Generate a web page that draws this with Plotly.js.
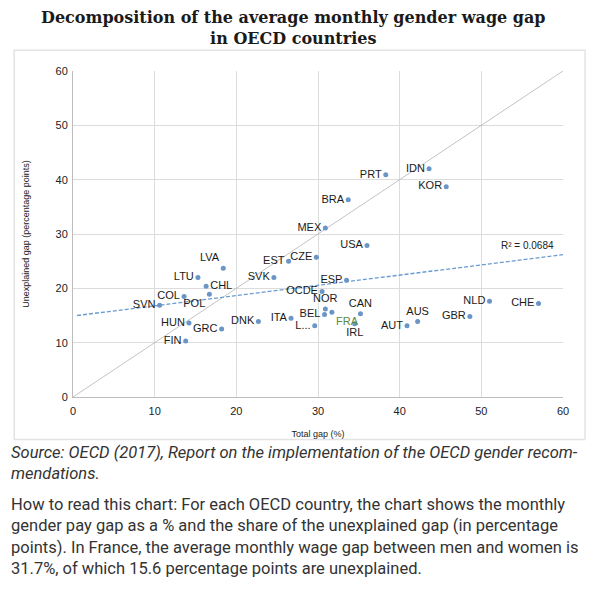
<!DOCTYPE html>
<html><head><meta charset="utf-8">
<script src="https://cdn.plot.ly/plotly-3.0.1.min.js"></script>
<style>html,body{margin:0;padding:0;background:#fff;}#chart{width:589px;height:599px;}</style>
</head><body><div id="chart"></div>
<script>
var countries = ["PRT","IDN","KOR","BRA","MEX","USA","CZE","EST","LVA","LTU","SVK","CHL","COL","POL","SVN","HUN","GRC","FIN","DNK","ITA","L...","OCDE","ESP","NOR","BEL","FRA","CAN","IRL","AUT","AUS","GBR","NLD","CHE"];
var totalGap = [38.3,43.6,45.7,33.7,30.9,36.0,29.8,26.4,18.4,15.3,24.6,16.3,13.6,16.7,10.6,14.2,18.2,13.8,22.7,26.7,29.6,30.5,33.5,30.9,30.8,31.7,35.2,34.5,40.9,42.2,48.6,51.0,57.0];
var unexplainedGap = [40.9,42.0,38.7,36.3,31.1,27.9,25.7,25.0,23.7,22.0,22.0,20.4,18.5,18.9,16.9,13.6,12.5,10.3,13.9,14.5,13.1,19.4,21.5,16.2,15.2,15.6,15.3,13.5,13.1,13.9,14.8,17.6,17.2];
var diagX = [0, 60];
var diagY = [0, 60];
var trendX = [0.5, 60];
var trendY = [15.0, 26.2];
var xTicks = [0,10,20,30,40,50,60];
var yTicks = [0,10,20,30,40,50,60];
var rSquared = "R² = 0.0684";

var special = {"LVA":"top left","CHL":"middle right","POL":"bottom left","NOR":"top center","FRA":"bottom right","CAN":"top center","IRL":"bottom center","AUS":"top center"};
var positions = countries.map(function(c){ return special[c] || "middle left"; });
var textColors = countries.map(function(c){ return c === "FRA" ? "#5b8a3c" : "#1a1a1a"; });

var traces = [
  {x: diagX, y: diagY, mode: "lines", line: {color: "#b4b4b4", width: 0.8}, hoverinfo: "skip", showlegend: false},
  {x: trendX, y: trendY, mode: "lines", line: {color: "#6a9bd0", width: 1.3, dash: "4px,2px"}, hoverinfo: "skip", showlegend: false},
  {x: totalGap, y: unexplainedGap, text: countries, mode: "markers+text", textposition: positions,
   textfont: {family: "Liberation Sans, Arial, sans-serif", size: 11, color: textColors},
   marker: {color: "#6a95c6", size: 5}, showlegend: false}
];

var layout = {
  width: 589, height: 599,
  margin: {l: 73.3, r: 25.7, t: 70.7, b: 202.3},
  paper_bgcolor: "#fff", plot_bgcolor: "#fff",
  font: {family: "Liberation Sans, Arial, sans-serif", color: "#333"},
  xaxis: {range: [0, 60], tickvals: xTicks, ticktext: xTicks.map(String), showgrid: true, gridcolor: "#dcdcdc", gridwidth: 1,
          zeroline: false, showline: true, linecolor: "#bdbdbd", linewidth: 1, ticks: "", ticklabelstandoff: 4,
          tickfont: {size: 11, color: "#222"},
          title: {text: "Total gap (%)", font: {size: 9, color: "#222"}, standoff: 14}},
  yaxis: {range: [0, 60], tickvals: yTicks, ticktext: yTicks.map(String), showgrid: true, gridcolor: "#dcdcdc", gridwidth: 1,
          zeroline: false, showline: true, linecolor: "#bdbdbd", linewidth: 1, ticks: "", ticklabelstandoff: 2,
          tickfont: {size: 11, color: "#222"},
          title: {text: "Unexplained gap (percentage points)", font: {size: 9, color: "#222"}, standoff: 24}},
  shapes: [
    {type: "rect", xref: "paper", yref: "paper", x0: -0.12, x1: 1.045, y0: -0.13, y1: 1.064,
     line: {color: "#e3e3e3", width: 1.5}, fillcolor: "rgba(0,0,0,0)", layer: "below"}
  ],
  annotations: [
    {xref: "paper", yref: "paper", x: 0.451, y: 1.198, xanchor: "center", yanchor: "top", align: "center", showarrow: false,
     text: "<b>Decomposition of the average monthly gender wage gap<br>in OECD countries</b>",
     font: {family: "DejaVu Serif, serif", size: 16, color: "#1a1a1a"}},
    {xref: "x", yref: "y", x: 59.2, y: 27.9, xanchor: "right", yanchor: "middle", text: rSquared, showarrow: false,
     font: {size: 10, color: "#222"}},
    {xref: "paper", yref: "paper", x: -0.131, y: -0.136, xanchor: "left", yanchor: "top", align: "left", showarrow: false,
     text: "<i>Source: OECD (2017), Report on the implementation of the OECD gender recom-<br>mendations.</i>",
     font: {family: "Roboto, sans-serif", size: 16.5, color: "#333"}},
    {xref: "paper", yref: "paper", x: -0.131, y: -0.293, xanchor: "left", yanchor: "top", align: "left", showarrow: false,
     text: "How to read this chart: For each OECD country, the chart shows the monthly<br>gender pay gap as a % and the share of the unexplained gap (in percentage<br>points). In France, the average monthly wage gap between men and women is<br>31.7%, of which 15.6 percentage points are unexplained.",
     font: {family: "Roboto, sans-serif", size: 16.5, color: "#333"}}
  ]
};
Plotly.newPlot("chart", traces, layout, {displayModeBar: false, staticPlot: true});
</script></body></html>
